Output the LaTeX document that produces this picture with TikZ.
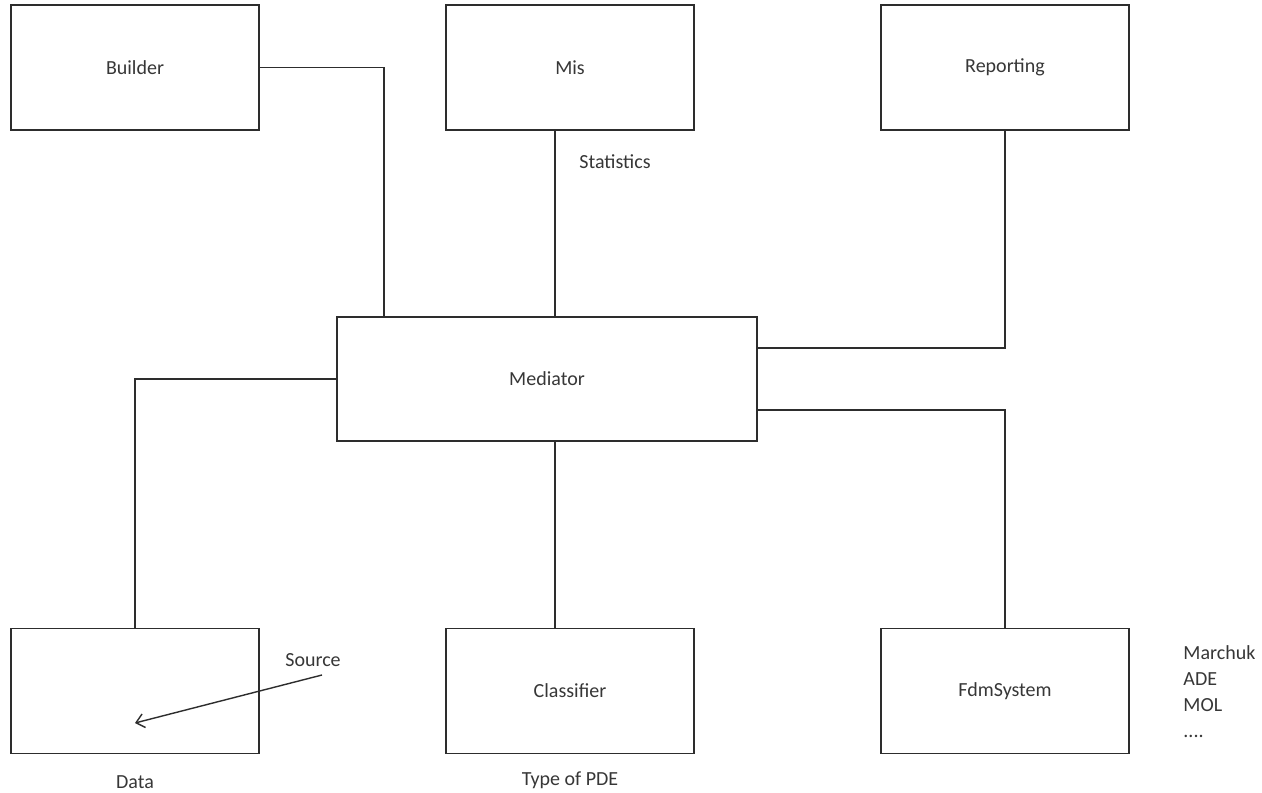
\documentclass[tikz,border=0pt]{standalone}
\usepackage{fontspec}
\setmainfont{Carlito}
\usetikzlibrary{arrows.meta}
\definecolor{ink}{RGB}{45,45,45}
\definecolor{txt}{RGB}{55,55,55}
\begin{document}
\begin{tikzpicture}[x=0.5pt,y=-0.5pt,
  every node/.style={font=\fontsize{10}{12}\selectfont, text=txt},
  box/.style={draw=ink, line width=0.7pt, minimum width=124pt, minimum height=62.5pt, inner sep=0pt},
  wire/.style={draw=ink, line width=0.7pt},
  lbl/.style={inner sep=0pt, anchor=base}]
\useasboundingbox[fill=white] (0,0) rectangle (1262,792);
% boxes
\node[box] (builder) at (135,67.5) {Builder};
\node[box] (mis) at (570,67.5) {Mis};
\node[box] (rep) at (1005,67.5) {Reporting};
\node[box, minimum width=210pt, minimum height=62pt] (med) at (547,379) {Mediator};
\node[box] (data) at (135,691) {};
\node[box] (cls) at (570,691) {Classifier};
\node[box] (fdm) at (1005,691) {FdmSystem};
% connectors
\draw[wire] (builder.east) -| (med.north -| 384,0);
\draw[wire] (mis.south -| 555,0) -- (med.north -| 555,0);
\draw[wire] (rep.south) |- (med.east |- 0,348);
\draw[wire] (med.west) -| (data.north);
\draw[wire] (med.south -| 555,0) -- (cls.north -| 555,0);
\draw[wire] (med.east |- 0,410) -| (fdm.north);
% labels
\node[lbl] (stat) at (615,168.5) {Statistics};
\node[lbl] (src) at (313,666.5) {Source};
\node[lbl] (dlab) at (135,788) {Data};
\node[lbl] (pde) at (570,785) {Type of PDE};
\node[lbl, anchor=base west] (m1) at (1183,659.5) {Marchuk};
\node[lbl, anchor=base west] (m2) at (1183,685.5) {ADE};
\node[lbl, anchor=base west] (m3) at (1183,711) {MOL};
\node[lbl, anchor=base west] (m4) at (1183,737) {....};
% arrow
\coordinate (a1) at (322,675);
\coordinate (a2) at (135,723);
\draw[wire, -{Straight Barb[length=4pt,width=7pt]}] (a1) -- (a2);
\end{tikzpicture}
\end{document}
